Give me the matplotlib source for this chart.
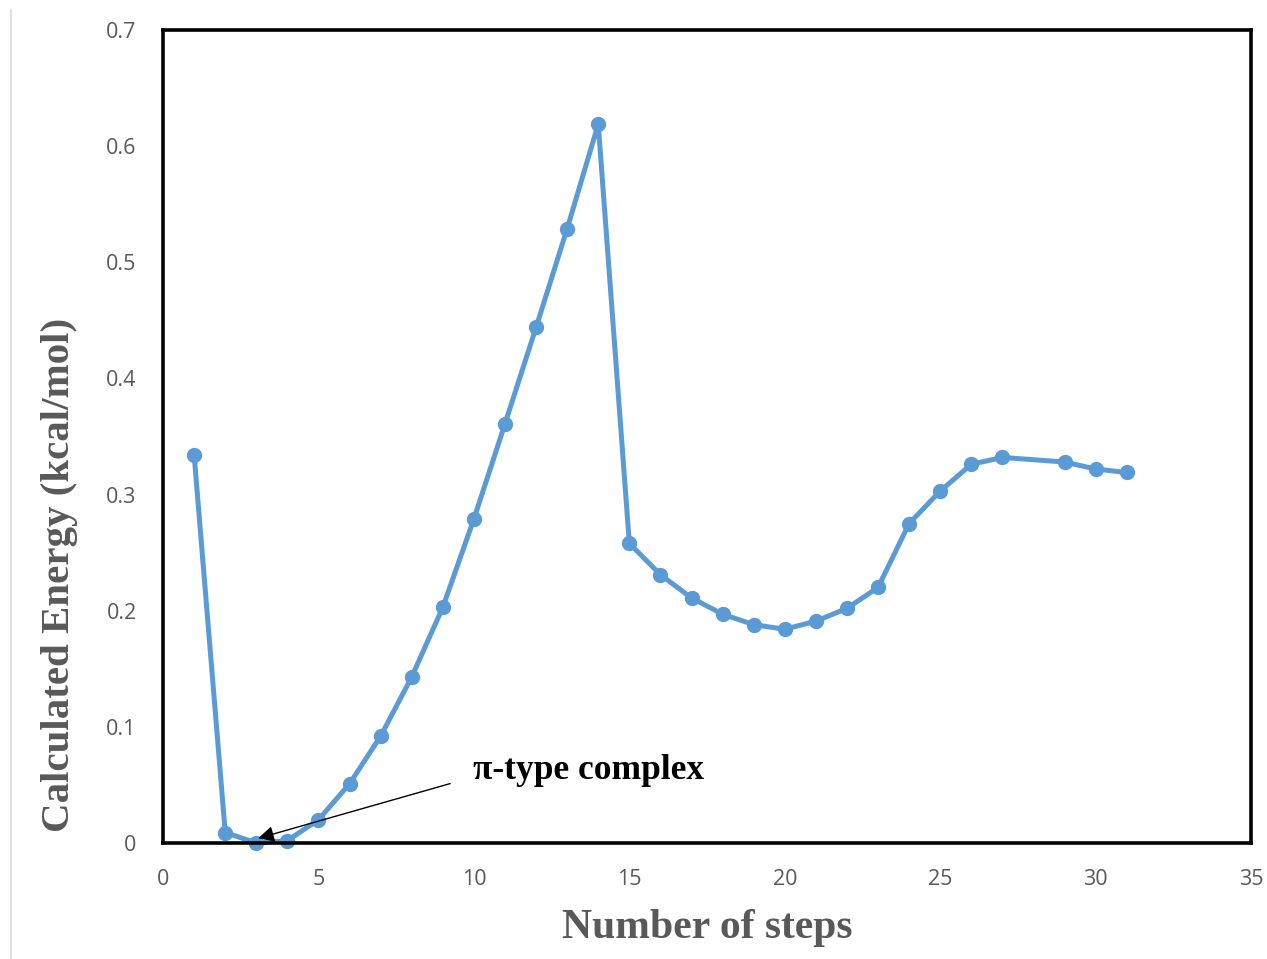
import matplotlib
matplotlib.use("Agg")
import matplotlib.pyplot as plt
from matplotlib.lines import Line2D

steps = [1, 2, 3, 4, 5, 6, 7, 8, 9, 10, 11, 12, 13, 14, 15, 16, 17, 18, 19, 20,
         21, 22, 23, 24, 25, 26, 27, 29, 30, 31]
energy = [0.334, 0.009, 0.0, 0.002, 0.020, 0.051, 0.092, 0.143, 0.203, 0.279,
          0.361, 0.444, 0.529, 0.619, 0.258, 0.231, 0.211, 0.197, 0.188, 0.184,
          0.191, 0.202, 0.220, 0.275, 0.303, 0.326, 0.332, 0.328, 0.322, 0.319]
xticks = [0, 5, 10, 15, 20, 25, 30, 35]
yticks = [0, 0.1, 0.2, 0.3, 0.4, 0.5, 0.6, 0.7]
yticklabels = ["0", "0.1", "0.2", "0.3", "0.4", "0.5", "0.6", "0.7"]

grey = "#595959"
fig = plt.figure(figsize=(12.67, 9.59), dpi=100)
ax = fig.add_axes([0.1287, 0.121, 0.8587, 0.8477])

ax.plot(steps, energy, color="#5B9BD5", lw=3.6, marker="o", ms=10, clip_on=False)

ax.set_xlim(0, 35)
ax.set_ylim(0, 0.7)
ax.set_xticks(xticks)
ax.set_yticks(yticks)
ax.set_yticklabels(yticklabels)
ax.tick_params(length=0, labelsize=15.5, labelcolor=grey)
ax.tick_params(axis="x", pad=18.5)
ax.tick_params(axis="y", pad=19)
for lab in ax.get_xticklabels() + ax.get_yticklabels():
    lab.set_family("Open Sans")
for s in ax.spines.values():
    s.set_linewidth(2.6)
    s.set_color("black")

ax.set_xlabel("Number of steps", family="Liberation Serif", fontweight="bold",
              fontsize=30, color=grey)
ax.set_ylabel("Calculated Energy (kcal/mol)", family="Liberation Serif",
              fontweight="bold", fontsize=29.5, color=grey)
ax.xaxis.set_label_coords(0.5, -0.1046)
ax.yaxis.set_label_coords(-0.0955, 0.33)
ax.xaxis.label.set_va("center")
ax.yaxis.label.set_va("center")

ax.annotate("π-type complex", xy=(3.06, 0.004), xytext=(9.98, 0.0625),
            family="Liberation Serif", fontweight="bold", fontsize=25.5,
            color="black", va="center",
            arrowprops=dict(arrowstyle="-|>", color="black", lw=1,
                            mutation_scale=24, shrinkA=0, shrinkB=0,
                            relpos=(-0.1, 0.1)))

fig.add_artist(Line2D([0.0087, 0.0087], [0.0, 0.99], color="#d9d9d9", lw=1.2))

fig.savefig("out.png", dpi=100)
